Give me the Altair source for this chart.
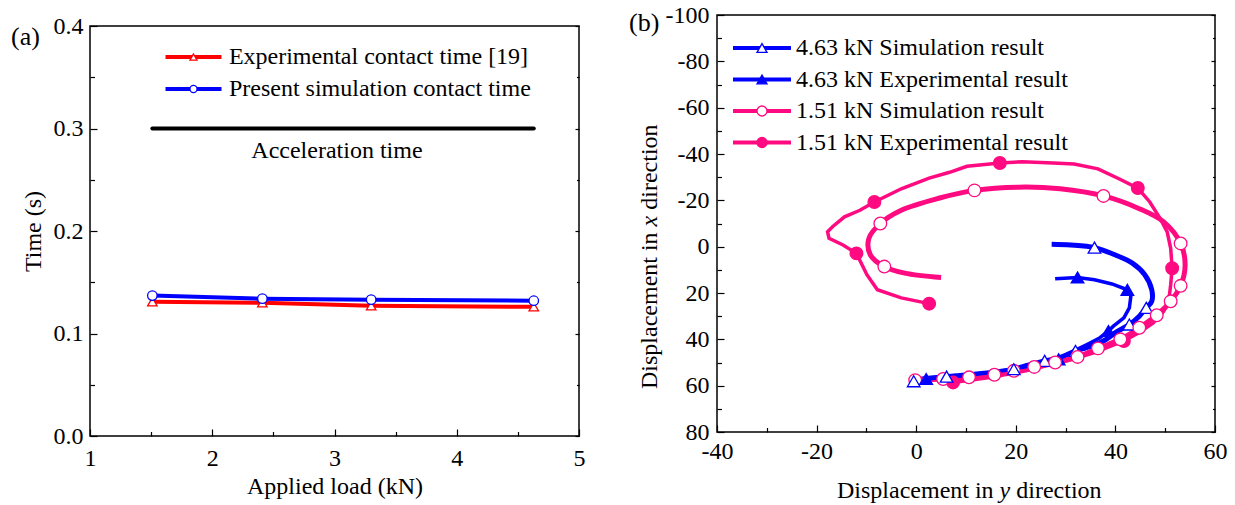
import altair as alt
import pandas as pd

FONT = "Liberation Serif"
FS = 24
RED, BLUE, PINK = "#FF0000", "#0000FF", "#FF0A80"

# ---------------- panel (a) data ----------------
a_series = ["Experimental contact time [19]", "Present simulation contact time"]
a_load = [1.51, 2.41, 3.30, 4.63]
a_exp_time = [0.131, 0.130, 0.127, 0.126]
a_sim_time = [0.137, 0.134, 0.133, 0.132]
accel_load = [1.51, 4.63]
accel_time = [0.30, 0.30]
accel_label = ["Acceleration time"]
accel_label_load = [3.02]
accel_label_time = [0.278]
a_xticks = [1, 1.5, 2, 2.5, 3, 3.5, 4, 4.5, 5]
a_yticks = [0, 0.05, 0.1, 0.15, 0.2, 0.25, 0.3, 0.35, 0.4]

# ---------------- panel (b) data ----------------
b_series = ["4.63 kN Simulation result", "4.63 kN Experimental result",
            "1.51 kN Simulation result", "1.51 kN Experimental result"]
# horizontal = displacement in y, vertical = displacement in x
sim463_h = [27.2, 31.0, 35.8, 40.0, 43.4, 45.9, 47.3, 47.3, 46.2, 44.8, 42.8, 40.0, 37.6, 33.8,
            32.0, 28.9, 25.8, 22.0, 19.6, 15.1, 8.1, 6.1, 1.2, -0.5]
sim463_v = [-1.0, -0.7, 0.4, 3.6, 7.1, 12.1, 18.6, 23.6, 26.4, 30.0, 33.6, 37.1, 40.7, 43.9,
            45.0, 47.9, 49.3, 51.4, 52.9, 54.3, 55.7, 56.1, 57.1, 58.1]
sim463_mh = [35.8, 46.2, 42.8, 32.0, 25.8, 19.6, 6.1, -0.5]
sim463_mv = [0.4, 26.4, 33.6, 45.0, 49.3, 52.9, 56.1, 58.1]

exp463_h = [27.9, 32.4, 35.8, 39.3, 42.4, 43.1, 42.8, 41.7, 39.6, 38.6, 36.9, 34.4, 31.7, 28.6,
            22.0, 15.1, 8.1, 2.0]
exp463_v = [13.9, 13.3, 14.3, 16.1, 18.6, 21.4, 26.4, 30.7, 34.3, 36.4, 39.3, 42.1, 45.0, 48.6,
            51.9, 54.3, 56.1, 57.1]
exp463_mh = [32.4, 42.4, 38.6, 28.6, 2.0]
exp463_mv = [13.3, 18.6, 36.4, 48.6, 57.1]

sim151_h = [-0.2, 5.4, 10.6, 15.7, 19.6, 23.7, 27.9, 32.4, 36.5, 41.0, 44.8, 48.3, 51.1, 53.1,
            54.0, 53.1, 49.7, 44.8, 37.6, 28.9, 20.6, 11.7, 4.7, -3.0, -7.2, -9.5, -9.2, -6.4,
            -2.3, 5.0]
sim151_v = [57.6, 57.1, 56.4, 55.3, 53.6, 51.9, 50.0, 47.6, 43.9, 40.0, 35.0, 29.6, 23.6, 16.9,
            7.9, -1.4, -10.7, -16.4, -21.9, -25.0, -25.7, -24.3, -21.0, -15.7, -10.0, -3.6, 3.6,
            8.6, 11.4, 13.3]
sim151_mh = [-0.2, 5.4, 10.6, 15.7, 19.6, 23.7, 27.9, 32.4, 36.5, 41.0, 44.8, 48.3, 51.1, 53.1,
             53.1, 37.6, 11.7, -7.2, -6.4]
sim151_mv = [57.6, 57.1, 56.4, 55.3, 53.6, 51.9, 50.0, 47.6, 43.9, 40.0, 35.0, 29.6, 23.6, 16.9,
             -1.4, -21.9, -24.3, -10.0, 8.6]

exp151_h = [7.4, 15.1, 22.0, 30.3, 35.8, 41.7, 44.8, 47.6, 49.7, 50.7, 51.1, 51.4, 51.1, 50.4,
            49.0, 46.9, 44.5, 40.7, 36.5, 31.7, 27.5, 21.3, 16.8, 10.2, 6.7, 2.6, -3.0, -8.4,
            -11.3, -14.4, -16.8, -17.8, -17.5, -14.7, -12.0, -9.9, -7.8, -3.0, 2.6]
exp151_v = [58.6, 56.4, 53.6, 49.3, 45.7, 40.7, 37.1, 32.9, 27.9, 23.6, 16.4, 9.3, 0.7, -6.4,
            -12.1, -19.3, -25.3, -29.3, -33.6, -35.7, -36.1, -36.7, -36.1, -34.7, -32.1, -29.6,
            -25.0, -19.3, -15.7, -12.9, -8.6, -6.4, -3.6, -0.7, 2.9, 12.1, 18.6, 22.1, 24.6]
exp151_mh = [7.4, 41.7, 51.4, 44.5, 16.8, -8.4, -12.0, 2.6]
exp151_mv = [58.6, 40.7, 9.3, -25.3, -36.1, -19.3, 2.9, 24.6]

b_xticks = list(range(-40, 61, 10))
b_yticks = list(range(-100, 81, 10))


def long_df(names, xs_list, ys_list, xname, yname):
    rows = []
    for s, xs, ys in zip(names, xs_list, ys_list):
        for i, (x, y) in enumerate(zip(xs, ys)):
            rows.append({"series": s, xname: x, yname: y, "i": i})
    return pd.DataFrame(rows)


def mk_axis(orient, values, minor_test, label_expr=None, labels=True, major=7, minor=4.5,
            pad=0, title=None, title_pad=0):
    kw = dict(orient=orient, values=values, domain=False, grid=False, ticks=True,
              tickColor="black", tickWidth=1.2,
              tickSize={"condition": {"test": minor_test, "value": -minor}, "value": -major},
              labels=labels, labelOverlap=False, labelFlush=False, labelFont=FONT,
              labelFontSize=FS, labelColor="black", labelPadding=pad, title=title)
    if label_expr:
        kw["labelExpr"] = label_expr
    if title:
        kw.update(titleFont=FONT, titleFontSize=FS, titleFontWeight="normal",
                  titleColor="black", titlePadding=title_pad)
    return alt.Axis(**kw)


def line_legend(lx, ly, size, half_len, label_offset, row_pad):
    u = half_len / (size ** 0.5 / 2)
    return alt.Legend(orient="none", legendX=lx, legendY=ly, title=None, padding=0,
                      symbolType=f"M{-u:.3f},0H{u:.3f}", symbolSize=size, symbolStrokeWidth=4,
                      labelFont=FONT, labelFontSize=FS, labelColor="black", labelLimit=600,
                      labelOffset=label_offset, rowPadding=row_pad)


def marker_legend(lx, ly, size, label_offset, row_pad):
    return alt.Legend(orient="none", legendX=lx, legendY=ly, title=None, padding=0,
                      symbolSize=size, symbolStrokeWidth=1.3, symbolOpacity=1,
                      labelFont=FONT, labelFontSize=FS, labelColor="black", labelOpacity=0,
                      labelLimit=600, labelOffset=label_offset, rowPadding=row_pad)


def txt(s, x, y, italic=False, angle=0, size=FS, align="left"):
    kw = dict(font=FONT, fontSize=size, color="black", align=align, baseline="middle")
    if italic:
        kw["fontStyle"] = "italic"
    if angle:
        kw["angle"] = angle
    return alt.Chart(pd.DataFrame({"t": [s]})).mark_text(**kw).encode(
        x=alt.value(x), y=alt.value(y), text="t:N")


INDEP = dict(color="independent", stroke="independent", fill="independent", shape="independent")

# ================= panel (a) =================
df_a = long_df(a_series, [a_load, a_load], [a_exp_time, a_sim_time], "load", "time")
df_acc = pd.DataFrame({"load": accel_load, "time": accel_time})
df_acc_txt = pd.DataFrame({"load": accel_label_load, "time": accel_label_time, "label": accel_label})

W_A, H_A = 489, 410
xs_a = alt.Scale(domain=[1, 5], nice=False, zero=False)
ys_a = alt.Scale(domain=[0, 0.4], nice=False, zero=False)
TEST_AX = "datum.value % 1 !== 0"
TEST_AY = "abs(datum.value*10 - round(datum.value*10)) > 0.01"
xax_a = mk_axis("bottom", a_xticks, TEST_AX, f"{TEST_AX} ? '' : '' + datum.value",
                pad=17, title="Applied load (kN)", title_pad=2)
yax_a = mk_axis("left", a_yticks, TEST_AY, f"{TEST_AY} ? '' : format(datum.value, '.1f')",
                pad=14, title="Time (s)", title_pad=8)
yax_a_r = mk_axis("right", a_yticks, TEST_AY, labels=False, major=4, minor=2.5)

X_a = alt.X("load:Q", scale=xs_a, axis=xax_a)
a_color = alt.Scale(domain=a_series, range=[RED, BLUE])
A_LEG_SIZE = 50
lines_a = alt.Chart(df_a).mark_line(strokeWidth=4).encode(
    x=X_a,
    y=alt.Y("time:Q", scale=ys_a, axis=yax_a),
    color=alt.Color("series:N", scale=a_color,
                    legend=line_legend(91.5, 19, A_LEG_SIZE, 28, 23.4, 8)),
    order="i:Q",
)
a_mleg = marker_legend(91.5, 19, A_LEG_SIZE, 23.4, 8)
pts_a = alt.Chart(df_a).mark_point(size=90, strokeWidth=1.3, opacity=1).encode(
    x=X_a,
    y=alt.Y("time:Q", scale=ys_a, axis=yax_a_r),
    stroke=alt.Stroke("series:N", scale=a_color, legend=a_mleg),
    fill=alt.Fill("series:N", scale=alt.Scale(domain=a_series, range=["white", "white"]), legend=a_mleg),
    shape=alt.Shape("series:N", scale=alt.Scale(domain=a_series, range=["triangle-up", "circle"]),
                    legend=a_mleg),
)
acc_line = alt.Chart(df_acc).mark_line(color="black", strokeWidth=4, strokeCap="round").encode(
    x=X_a, y=alt.Y("time:Q", scale=ys_a, axis=None))
acc_txt = alt.Chart(df_acc_txt).mark_text(font=FONT, fontSize=FS, color="black").encode(
    x=X_a, y=alt.Y("time:Q", scale=ys_a, axis=None), text="label:N")
tag_a = txt("(a)", -79, 11, size=26)

panel_a = alt.layer(lines_a, pts_a, acc_line, acc_txt, tag_a).resolve_axis(
    y="independent").resolve_legend(**INDEP).properties(width=W_A, height=H_A)

# invisible spacer that lowers panel (a) relative to panel (b)
spacer = alt.Chart(pd.DataFrame({"z": [0]})).mark_point(size=1, opacity=0).encode(
    x=alt.value(0), y=alt.value(0)).properties(
    width=W_A, height=1, view=alt.ViewBackground(stroke="transparent"))

# ================= panel (b) =================
W_B, H_B = 498, 417
df_b_sim = long_df([b_series[0], b_series[2]], [sim463_h, sim151_h], [sim463_v, sim151_v], "h", "v")
df_b_exp = long_df([b_series[1], b_series[3]], [exp463_h, exp151_h], [exp463_v, exp151_v], "h", "v")
df_b_pts = long_df([b_series[3], b_series[2], b_series[1], b_series[0]],
                   [exp151_mh, sim151_mh, exp463_mh, sim463_mh],
                   [exp151_mv, sim151_mv, exp463_mv, sim463_mv], "h", "v")

xs_b = alt.Scale(domain=[-40, 60], nice=False, zero=False)
ys_b = alt.Scale(domain=[-100, 80], nice=False, zero=False, reverse=True)
TEST_B = "datum.value % 20 !== 0"
xax_b = mk_axis("bottom", b_xticks, TEST_B, f"{TEST_B} ? '' : '' + datum.value", pad=14)
yax_b = mk_axis("left", b_yticks, TEST_B, f"{TEST_B} ? '' : '' + datum.value", pad=15)
yax_b_r = mk_axis("right", b_yticks, TEST_B, labels=False, major=4, minor=2.5)

X_b = alt.X("h:Q", scale=xs_b, axis=xax_b)
b_color = alt.Scale(domain=b_series, range=[BLUE, BLUE, PINK, PINK])
B_LEG_SIZE = 100
b_lleg = line_legend(33, 21, B_LEG_SIZE, 29, 22, 7.5)
sim_lines_b = alt.Chart(df_b_sim).mark_line(strokeWidth=5, interpolate="catmull-rom").encode(
    x=X_b, y=alt.Y("v:Q", scale=ys_b, axis=yax_b),
    color=alt.Color("series:N", scale=b_color, legend=b_lleg), order="i:Q")
exp_lines_b = alt.Chart(df_b_exp).mark_line(strokeWidth=3.5).encode(
    x=X_b, y=alt.Y("v:Q", scale=ys_b, axis=yax_b),
    color=alt.Color("series:N", scale=b_color, legend=b_lleg), order="i:Q")
lines_b = alt.layer(sim_lines_b, exp_lines_b)

b_mleg = marker_legend(33, 21, B_LEG_SIZE, 22, 7.5)
pts_b = alt.Chart(df_b_pts).mark_point(size=160, strokeWidth=1.3, opacity=1).encode(
    x=X_b, y=alt.Y("v:Q", scale=ys_b, axis=yax_b_r),
    stroke=alt.Stroke("series:N", scale=b_color, legend=b_mleg),
    fill=alt.Fill("series:N", scale=alt.Scale(domain=b_series, range=["white", BLUE, "white", PINK]),
                  legend=b_mleg),
    shape=alt.Shape("series:N", scale=alt.Scale(domain=b_series,
                    range=["triangle-up", "triangle-up", "circle", "circle"]), legend=b_mleg),
    order="i:Q",
)

# axis titles with italic variable letters, plus panel tag
xt1 = txt("Displacement in", 120, 476)
xt2 = txt("y", 282.6, 476, italic=True)
xt3 = txt("direction", 299.3, 476)
yt1 = txt("Displacement in", -67, 374, angle=270)
yt2 = txt("x", -67, 211.4, italic=True, angle=270)
yt3 = txt("direction", -67, 194.7, angle=270)
tag_b = txt("(b)", -88, 8, size=26)

panel_b = alt.layer(lines_b, pts_b, xt1, xt2, xt3, yt1, yt2, yt3, tag_b).resolve_axis(
    y="independent").resolve_legend(**INDEP).properties(width=W_B, height=H_B)

left_col = alt.vconcat(spacer, panel_a, spacing=-4)

chart = alt.hconcat(left_col, panel_b, spacing=42).resolve_scale(
    **INDEP).resolve_legend(**INDEP).properties(
    padding={"left": 10, "top": 2, "right": 2, "bottom": 2}
).configure(background="white", font=FONT).configure_view(stroke="black", strokeWidth=1.5)

chart.save("out.html", embed_options={"renderer": "svg", "actions": False})
